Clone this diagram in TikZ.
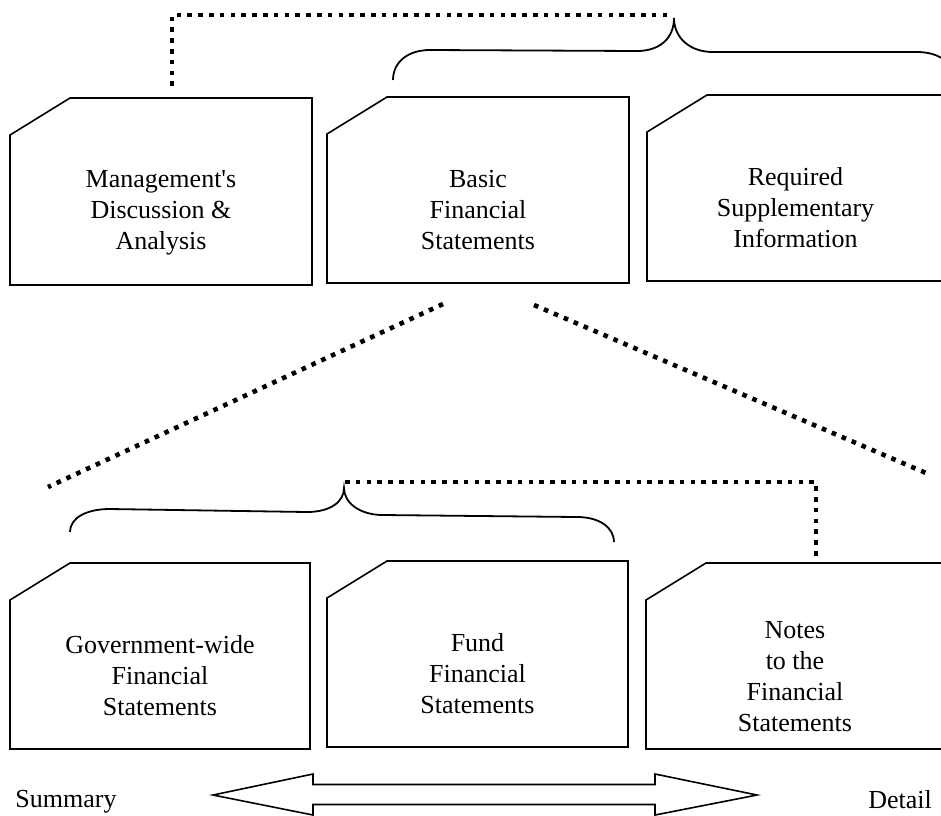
\documentclass[tikz,border=0pt]{standalone}
\usepackage{fontspec}
\setmainfont{Liberation Serif}[Ligatures=TeXOff]
\tikzset{
  cardline/.style={draw=black, line width=1.6pt, line join=miter},
  cardtext/.style={align=center, font=\fontsize{26}{31}\selectfont, inner sep=0pt},
  dotline/.style={line width=4.6pt, dash pattern=on 4.6pt off 6.2pt},
  braceline/.style={line width=1.8pt},
  arrowline/.style={draw=black, line width=1.6pt, line join=miter},
  labeltext/.style={font=\fontsize{26}{31}\selectfont, inner sep=0pt, anchor=base}
}
% name, left, top, right, bottom, text, vertical text shift
\newcommand\mycard[7]{%
  \draw[cardline] (#2,#3+37) -- (#2+60,#3) -- (#4,#3) -- (#4,#5) -- (#2,#5) -- cycle;
  \node[cardtext] (#1) at ({(#2+#4)/2},{(#3+37+#5)/2+#7}) {#6};}
\begin{document}
\begin{tikzpicture}[x=1pt,y=-1pt]
\useasboundingbox (0,0) rectangle (941,815);
\clip (0,0) rectangle (941,815);

% top row of cards
\mycard{mda}{10}{98}{312}{285}{Management's\\Discussion \&\\Analysis}{3}
\mycard{bfs}{327}{97}{629}{283}{Basic\\Financial\\Statements}{2}
\mycard{rsi}{647}{95}{944}{281}{Required\\Supplementary\\Information}{1.5}

% bottom row of cards
\mycard{gov}{10}{563}{310}{749}{Government-wide\\Financial\\Statements}{1.5}
\mycard{fund}{327}{561}{628}{747}{Fund\\Financial\\Statements}{1.5}
\mycard{notes}{646}{563}{944}{749}{Notes\\to the\\Financial\\Statements}{2}

% named connector ends
\coordinate (mdatop) at (172,86);
\coordinate (topcorner) at (172,15);
\coordinate (toptip) at (668,15);
\coordinate (bfsbl) at (443,304);
\coordinate (bfsbr) at (534,305);
\coordinate (govtl) at (48,487);
\coordinate (notestr) at (926,473);
\coordinate (bottip) at (345,482);
\coordinate (botcorner) at (816,482);
\coordinate (notestop) at (816,562);

% top brace over Basic FS and RSI
\draw[braceline] (393,80) .. controls (393,62) and (408,50) .. (430,50)
  -- (637,51) .. controls (660,51) and (674,38) .. (674,18)
  .. controls (674,38) and (690,52) .. (713,52)
  -- (917,52) .. controls (938,52) and (954,62) .. (954,80);

% bottom brace over Gov-wide and Fund FS
\draw[braceline] (70,532) .. controls (70,518) and (86,509) .. (110,509)
  -- (307,512) .. controls (330,512) and (344,502) .. (344,488)
  .. controls (344,503) and (360,515) .. (383,515)
  -- (577,517) .. controls (600,517) and (614,528) .. (614,542);

% dotted connectors
\draw[dotline] (mdatop) -- (topcorner) -- (toptip);
\draw[dotline] (bfsbl) -- (govtl);
\draw[dotline] (bfsbr) -- (notestr);
\draw[dotline] (bottip) -- (botcorner) -- (notestop);

% double arrow
\draw[arrowline] (213,795) -- (313,774) -- (313,784.5) -- (655,784.5) -- (655,774)
  -- (757,795) -- (655,815) -- (655,804.5) -- (313,804.5) -- (313,815) -- cycle;

\node[labeltext] (summary) at (66,807.5) {Summary};
\node[labeltext] (detail) at (900,808) {Detail};
\end{tikzpicture}
\end{document}
